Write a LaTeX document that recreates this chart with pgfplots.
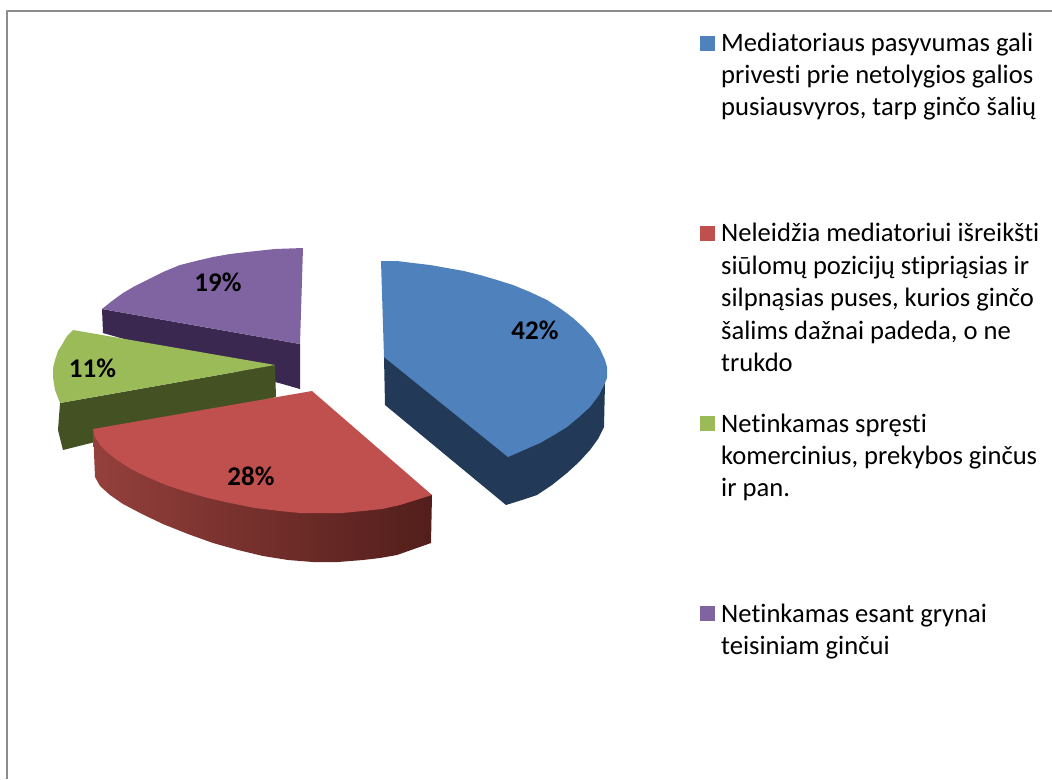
\documentclass[border=0pt]{standalone}
\usepackage{pgfplots}
\pgfplotsset{compat=1.18}
\usepackage{fontspec}
\setmainfont{Carlito}[Ligatures=NoCommon]
\definecolor{bt}{HTML}{4F81BD}\definecolor{bs}{HTML}{223A57}
\definecolor{rt}{HTML}{C0504D}\definecolor{rl}{HTML}{94403C}\definecolor{rm}{HTML}{743230}\definecolor{rr}{HTML}{521E1B}
\definecolor{gt}{HTML}{9BBB59}\definecolor{gs}{HTML}{445223}
\definecolor{pt}{HTML}{8064A2}\definecolor{ps}{HTML}{3A2850}
\definecolor{fr}{HTML}{8C8C8C}
\newcommand{\lgd}[2]{\node[anchor=base west,inner sep=0pt,font=\fontsize{26.6}{26.6}\selectfont] at (axis cs:721,#1) {#2};}
\newcommand{\pc}[3]{\node[anchor=center,inner sep=0pt,font=\fontsize{27}{27}\selectfont\bfseries] at (axis cs:#1,#2) {#3};}
\begin{document}
\begin{tikzpicture}[x=1pt,y=1pt]
\path[use as bounding box] (0,0) rectangle (1052pt,779pt);
\begin{axis}[at={(0,0)},anchor=south west,width=1052pt,height=779pt,scale only axis,hide axis,
  xmin=0,xmax=1052,ymin=0,ymax=779,y dir=reverse,clip=true,no markers,
  every axis plot/.append style={draw=none,forget plot,sharp plot,line join=round}]
% frame
\addplot[draw=fr,line width=2.2pt] coordinates {(7,779) (7,11) (1052,11)};
% purple
\addplot[fill=ps] coordinates {(102,309)(300,344)(300,389)(103,333)};
\addplot[fill=pt] coordinates {(102,309)(112,301)(123,293)(135,286)(147,280)(163,272)(180,265)(196,261)(213,257)(230,254)(247,252)(275,249)(303,248)(300,344)};
% green
\addplot[fill=gs] coordinates {(60,403)(275,365)(276,397)(63,450)(58,430)};
\addplot[fill=gt] coordinates {(73,330)(275,365)(60,403)(55,390)(53,377)(53,368)(55,360)(58,351)(63,343)(67,336)};
% red
\addplot[left color=rl,middle color=rm,right color=rr] coordinates {(93,429)(432,495)(431,543)(414,549)(397,555)(380,558)(363,560)(338,562)(313,562)(288,560)(263,556)(238,550)(213,543)(188,534)(163,524)(142,514)(123,504)(110,495)(100,486)(95,477)};
\addplot[fill=rt] coordinates {(93,429)(312,391)(432,495)(416,500)(400,505)(382,509)(363,511)(342,513)(320,513)(300,513)(280,511)(255,508)(230,503)(208,498)(187,492)(166,485)(147,477)(131,469)(117,460)(107,452)(100,445)(95,437)};
% blue
\addplot[fill=bs] coordinates {(384,357)(605,383)(604,427)(598,439)(590,450)(579,462)(567,473)(552,485)(537,495)(522,500)(506,505)(385,405)};
\addplot[fill=bt] coordinates {(381,261)(397,261)(413,263)(430,265)(447,268)(464,271)(480,275)(497,280)(513,285)(530,292)(547,300)(561,309)(573,318)(584,328)(593,338)(600,349)(605,360)(607,367)(607,373)(607,378)(605,383)(599,395)(590,407)(579,417)(567,427)(554,435)(540,443)(524,450)(508,457)(384,357)};
% legend keys
\addplot[fill=bt] coordinates {(700,36)(715,36)(715,51)(700,51)};
\addplot[fill=rt] coordinates {(700,226)(715,226)(715,241)(700,241)};
\addplot[fill=gt] coordinates {(700,416)(715,416)(715,431)(700,431)};
\addplot[fill=pt] coordinates {(700,606)(715,606)(715,621)(700,621)};
% labels
\pc{218}{282}{19\%}
\pc{535}{330}{42\%}
\pc{251}{476}{28\%}
\pc{92.5}{368}{11\%}
% legend text
\lgd{51}{Mediatoriaus pasyvumas gali}
\lgd{83}{privesti prie netolygios galios}
\lgd{115}{pusiausvyros, tarp ginčo šalių}
\lgd{241}{Neleidžia mediatoriui išreikšti}
\lgd{274}{siūlomų pozicijų stipriąsias ir}
\lgd{306}{silpnąsias puses, kurios ginčo}
\lgd{339}{šalims dažnai padeda, o ne}
\lgd{371}{trukdo}
\lgd{432}{Netinkamas spręsti}
\lgd{464}{komercinius, prekybos ginčus}
\lgd{496}{ir pan.}
\lgd{622}{Netinkamas esant grynai}
\lgd{654}{teisiniam ginčui}
\end{axis}
\end{tikzpicture}
\end{document}
